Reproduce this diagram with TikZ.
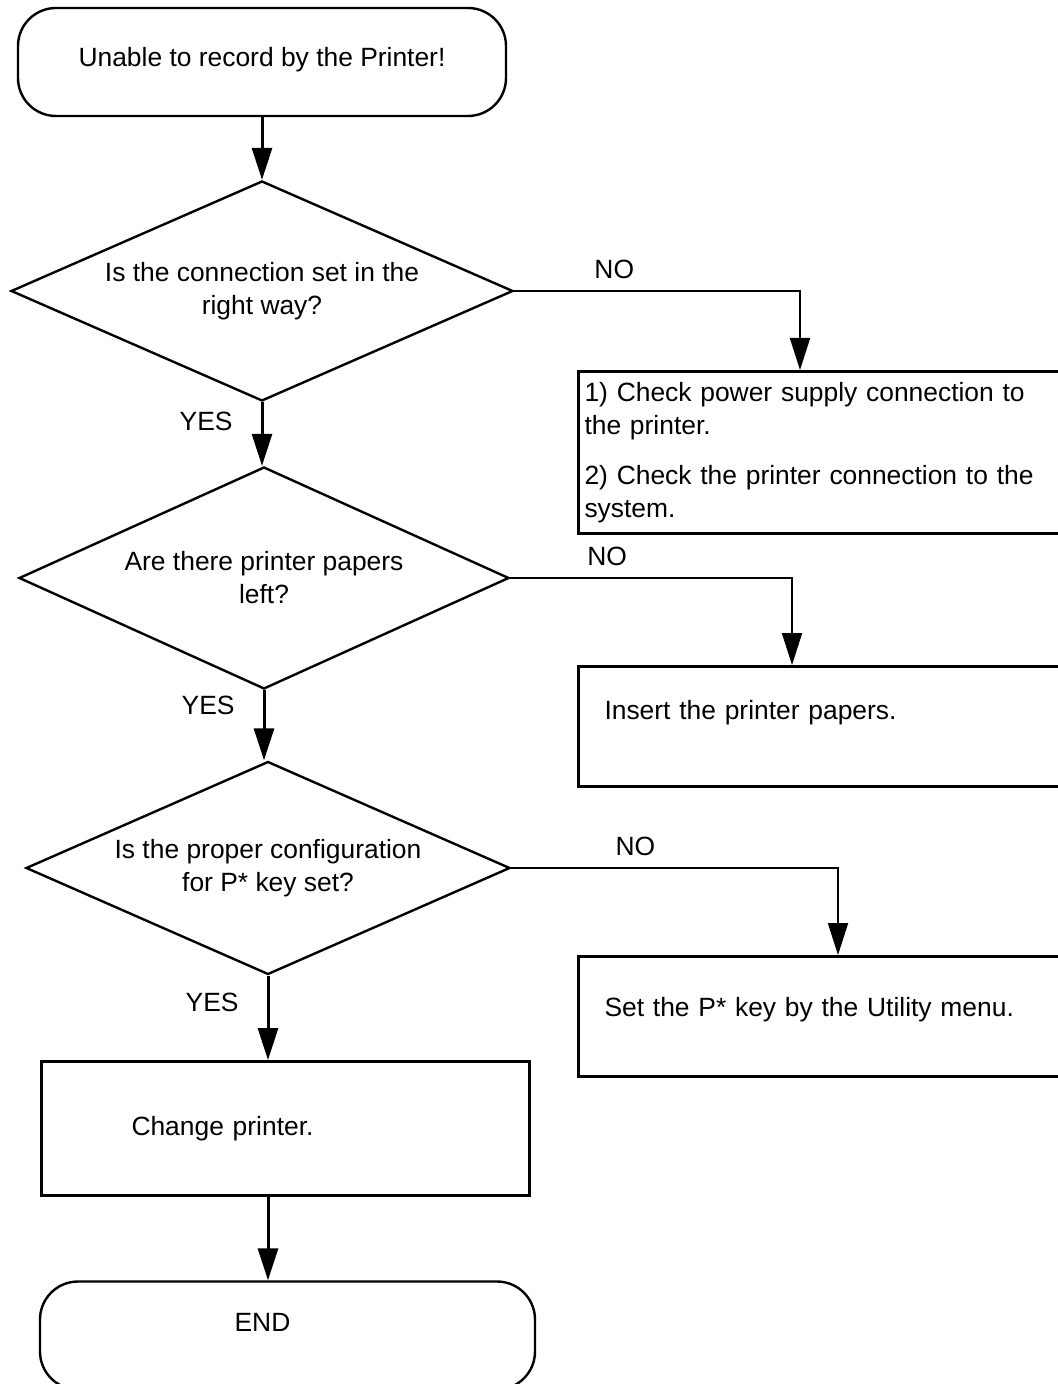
\documentclass[tikz,border=0pt]{standalone}
\usepackage{fontspec}
\setmainfont{Liberation Sans}
\usetikzlibrary{arrows.meta,shapes.geometric}

\begin{document}
\begin{tikzpicture}[
  x=0.5pt,y=-0.5pt,
  font=\fontsize{13.2}{16.5}\selectfont,
  terminal/.style={draw,line width=1.2pt,rounded corners=19pt,minimum width=244pt,minimum height=54pt,inner sep=0pt},
  decision/.style={draw,diamond,aspect=2.28,line width=1.2pt,inner sep=0pt,align=center},
  stepbox/.style={draw,line width=1.5pt,anchor=north west,align=left,text width=250pt,inner xsep=13pt},
  flow/.style={-{Triangle[length=16pt,width=10pt]},line width=1.5pt},
  branch/.style={flow,line width=1pt},
  answer/.style={inner sep=2pt}
]
\useasboundingbox (0,0) rectangle (1057,1384);
\node[terminal,text depth=5pt] (start) at (262,62) {Unable to record by the Printer!};
\node[decision,minimum width=251pt,minimum height=110pt] (conn) at (262,291) {Is the connection set in the\\right way?};
\node[decision,minimum width=245pt,minimum height=111pt] (paper) at (264,578) {Are there printer papers\\left?};
\node[decision,minimum width=242pt,minimum height=106.5pt] (config) at (268,868) {Is the proper configuration\\for P* key set?};
\node[stepbox,inner xsep=3pt,minimum height=81pt] (fixconn) at (577,370) {1) Check power supply connection to\\the printer.\\[8.5pt]2) Check the printer connection to the\\system.};
\node[stepbox,minimum height=60pt,text depth=17pt] (addpaper) at (577,665) {Insert the printer papers.};
\node[stepbox,minimum height=60pt,text depth=10pt] (setkey) at (577,955) {Set the P* key by the Utility menu.};
\node[stepbox,text width=154pt,inner xsep=45pt,minimum height=67pt] (change) at (40,1060) {Change printer.};
\node[terminal,minimum width=247.5pt,text depth=13pt] (finish) at (287.5,1335.5) {END\hspace*{25pt}};
\draw[flow] (start.south) -- (conn.north);
\draw[flow] (conn.south) -- node[answer,left=12pt,pos=0.3]{YES} (conn.south |- paper.north);
\draw[flow] (paper.south) -- node[answer,left=12pt,pos=0.22]{YES} (paper.south |- config.north);
\draw[flow] (config.south) -- node[answer,left=12pt,pos=0.32]{YES} (config.south |- change.north);
\draw[flow] (config.south |- change.south) -- (config.south |- finish.north);
\draw[branch] (conn.east) -| node[answer,pos=0.175,above=3.5pt]{NO} ([xshift=111.5pt]fixconn.north west);
\draw[branch] (paper.east) -| node[answer,pos=0.172,above=3.5pt]{NO} ([xshift=107.5pt]addpaper.north west);
\draw[branch] (config.east) -| node[answer,pos=0.19,above=3.5pt]{NO} ([xshift=130.5pt]setkey.north west);
\end{tikzpicture}
\end{document}
